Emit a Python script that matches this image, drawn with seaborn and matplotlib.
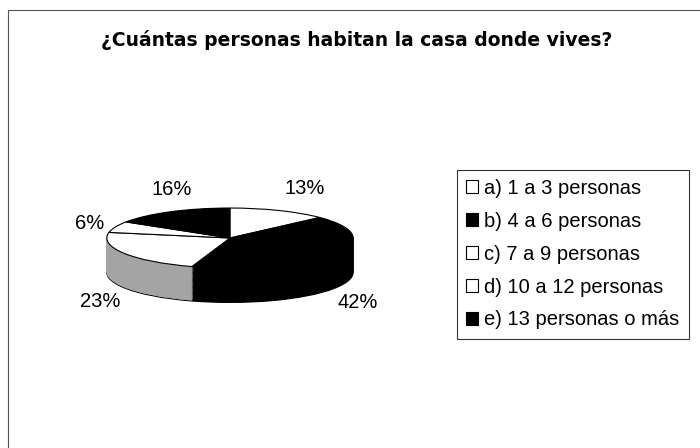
import numpy as np
import matplotlib
matplotlib.use("Agg")
import matplotlib.pyplot as plt
import seaborn as sns

# ==========================================================
# Data
# ==========================================================

categories = ["a) 1 a 3 personas", "b) 4 a 6 personas", "c) 7 a 9 personas",
              "d) 10 a 12 personas", "e) 13 personas o más"]
percentages = [13, 42, 23, 6, 16]
top_colors = ["white", "black", "white", "white", "black"]
side_colors = ["white", "black", "#a4a4a4", "white", "black"]
title = "¿Cuántas personas habitan la casa donde vives?"

# ==========================================================
# Figure
# ==========================================================

sns.set_theme(style="white")
plt.rcParams["font.family"] = ["Liberation Sans", "DejaVu Sans"]
plt.rcParams["text.color"] = "black"

fig = plt.figure(figsize=(7, 4.48), dpi=100)
fig.patch.set_facecolor("white")

# pie axes: 1 unit in x = 123 px, 1 unit in y = 30 px (tilted look)
ax = fig.add_axes([0.047, 0.268, 0.563, 0.368])
depth = 1.15
n_layers = 40

# side wall: stacked copies of the pie, drawn bottom first
for i, dy in enumerate(np.linspace(depth, 0.02, n_layers)):
    wedges, _ = ax.pie(percentages, colors=side_colors, startangle=90,
                       counterclock=False, center=(0, -dy), radius=1,
                       frame=True,
                       wedgeprops=dict(linewidth=0.8 if i == 0 else 0.6,
                                       edgecolor="black" if i == 0 else None))
    if i > 0:
        for w, c in zip(wedges, side_colors):
            w.set_edgecolor(c)

# top face
top_wedges, _, pct_texts = ax.pie(
    percentages, colors=top_colors, startangle=90, counterclock=False,
    center=(0, 0), radius=1, frame=True, autopct="%1.0f%%", pctdistance=1.32,
    wedgeprops=dict(linewidth=0.8, edgecolor="black"),
    textprops=dict(fontsize=14.5, color="black"))

# labels in front sit below the side wall, those at the back a bit higher
for t in pct_texts:
    x, y = t.get_position()
    x = x * 0.93
    if y < 0:
        y = y - 1.45
    elif y > 0.8:
        x, y = x + 0.12, y + 0.45
    t.set_position((x, y))

ax.set_aspect("auto")
ax.set_xlim(-1.6, 1.6)
ax.set_ylim(-3.0, 2.5)
ax.axis("off")

# ==========================================================
# Title and legend
# ==========================================================

fig.text(0.509, 0.911, title, ha="center", va="center", fontsize=13.5,
         fontweight="bold", family="DejaVu Sans", color="black")

leg = fig.legend(top_wedges, categories, loc="upper left",
                 bbox_to_anchor=(0.653, 0.621), frameon=True, fancybox=False,
                 fontsize=14.5, handlelength=0.6, handleheight=0.6,
                 handletextpad=0.3, labelspacing=0.69, borderpad=0.45,
                 borderaxespad=0)
leg.get_frame().set_edgecolor("black")
leg.get_frame().set_linewidth(0.8)
for txt in leg.get_texts():
    txt.set_color("black")

# chart area border (left and top edges visible in the scan)
fig.add_artist(plt.Line2D([0.012, 0.012], [0.0, 0.977], color="#555555", lw=0.8))
fig.add_artist(plt.Line2D([0.012, 1.0], [0.977, 0.977], color="#555555", lw=0.8))

fig.savefig("out.png", dpi=100)
